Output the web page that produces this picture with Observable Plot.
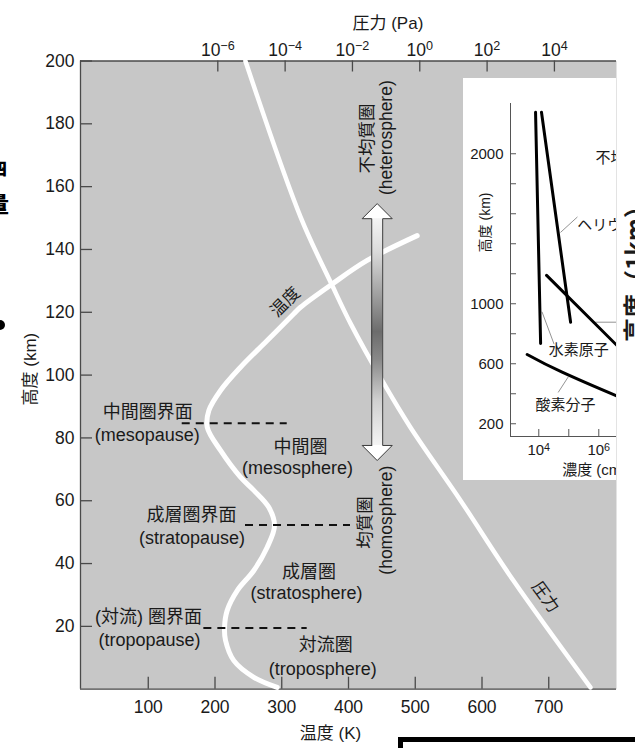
<!DOCTYPE html>
<html>
<head>
<meta charset="utf-8">
<script src="https://cdn.jsdelivr.net/npm/d3@7"></script>
<script src="https://cdn.jsdelivr.net/npm/@observablehq/plot@0.6"></script>
<style>
  html, body { margin: 0; padding: 0; background: #fff; }
  body { width: 635px; height: 748px; overflow: hidden; position: relative;
         font-family: 'Liberation Sans', 'Noto Sans CJK JP', sans-serif; color: #1a1a1a; }
  #main { position: absolute; left: 0; top: 0; }
  #inset { position: absolute; left: 463px; top: 78px; width: 153px; height: 402px;
           overflow: hidden; background: #fff; }
  #inset svg, #main svg { max-width: none !important; }
  #nextpage { position: absolute; left: 633px; top: 268px; transform: translate(-50%, -50%) rotate(-90deg);
              font-size: 24px; font-weight: bold; white-space: nowrap; font-family: 'Noto Sans CJK JP', sans-serif; }
  #box { position: absolute; left: 398px; top: 737px; width: 320px; height: 80px; border: 5px solid #000; }
  .edge { position: absolute; font-family: 'Noto Sans CJK JP', sans-serif; font-weight: 900; color: #000; }
  #dot { position: absolute; left: -5px; top: 320px; width: 10px; height: 10px; border-radius: 50%; background: #000; }
</style>
</head>
<body>
<div id="main"></div>
<div id="inset"></div>
<div id="nextpage">高度（1km）</div>
<div id="box"></div>
<div class="edge" style="left:-10px; top:155px; font-size:17px;">四</div>
<div class="edge" style="left:-13px; top:186px; font-size:22px;">量</div>
<div id="dot"></div>
<script>
// ---- Main panel: temperature (bottom axis) and pressure (top axis) vs altitude ----
const font = "'Liberation Sans', 'Noto Sans CJK JP', sans-serif";

// Temperature profile
const temperatureK   = [293.2, 258.2, 228.2, 215.8, 214.3, 218.3, 233.3, 258.2, 278.2, 289.2, 280.6, 258.2, 238.2, 208.3, 188.4, 190.8, 208.3, 238.2, 278.2, 318.1, 328.1, 375.6, 428.0, 502.9];
const temperatureAlt = [0.6, 3.8, 9.1, 15.5, 19.7, 25.1, 31.4, 37.8, 45.2, 52.1, 57.9, 63.3, 67.5, 76.0, 83.4, 88.7, 95.1, 102.5, 111.0, 119.5, 121.6, 129.0, 136.5, 144.4];

// Pressure profile (log10 of pressure in Pa)
const pressureLog10 = [-5.18, -3.54, -2.60, -2.05, -1.12, -0.28, 1.21, 2.78, 5.07];
const pressureAlt   = [200.0, 150.3, 128.5, 116.3, 98.3, 83.4, 60.1, 34.6, 0.6];

// Tick values
const altTicks = [20, 40, 60, 80, 100, 120, 140, 160, 180, 200];
const tempTicks = [100, 200, 300, 400, 500, 600, 700];
const pressureExponents = [-6, -4, -2, 0, 2, 4];

// Layer boundaries (dashed)
const boundaryAlt    = [84.7, 52.3, 19.5];
const boundaryFromK  = [150.9, 245.7, 183.3];
const boundaryToK    = [308.2, 403.0, 338.1];

// Horizontal labels
const labelText = ["中間圏界面", "(mesopause)", "中間圏", "(mesosphere)",
                   "成層圏界面", "(stratopause)", "成層圏", "(stratosphere)",
                   "(対流) 圏界面", "(tropopause)", "対流圏", "(troposphere)"];
const labelK    = [99.2, 98.5, 328.1, 323.6, 164.9, 165.6, 341.0, 337.1, 100.4, 102.0, 366.0, 361.5];
const labelAlt  = [88.1, 80.8, 77.0, 70.2, 55.3, 48.2, 37.2, 30.4, 22.9, 15.5, 13.9, 6.5];

// Vertical labels beside the homosphere / heterosphere arrow
const sphereText = ["不均質圏", "(heterosphere)", "均質圏", "(homosphere)"];
const sphereK    = [428.0, 456.9, 425.4, 456.9];
const sphereAlt  = [175.3, 175.6, 53.1, 53.8];

// Homosphere/heterosphere arrow: centre temperature and altitude span
const arrowK = 443;
const arrowSpan = [72.8, 154.6];

// The pressure axis is aligned so that 10^-6 Pa sits at 204.2 K and a decade spans 50.43 K
const pToK = e => 204.2 + (e + 6) * 50.43;
const sup = s => String(s).replace(/-/g, "⁻").replace(/\d/g, d => "⁰¹²³⁴⁵⁶⁷⁸⁹"[d]);

// Redraw "10ⁿ" labels with a raised, smaller exponent
function raiseExponents(node) {
  d3.select(node).selectAll("text").each(function () {
    const m = this.textContent.match(/^10([⁻⁰¹²³⁴⁵⁶⁷⁸⁹]+)$/);
    if (!m) return;
    const exp = m[1].replace(/⁻/g, "−").replace(/[⁰¹²³⁴⁵⁶⁷⁸⁹]/g, c => "⁰¹²³⁴⁵⁶⁷⁸⁹".indexOf(c));
    const t = d3.select(this);
    t.text("10");
    t.append("tspan").attr("dy", "-0.42em").attr("font-size", "0.72em").text(exp);
  });
}

const temperature = temperatureK.map((t, i) => ({t, alt: temperatureAlt[i]}));
const pressure = pressureLog10.map((p, i) => ({t: pToK(p), alt: pressureAlt[i]}));
const boundaries = boundaryAlt.map((alt, i) => ({alt, x1: boundaryFromK[i], x2: boundaryToK[i]}));
const labels = labelText.map((text, i) => ({text, t: labelK[i], alt: labelAlt[i]}));
const sphereLabels = sphereText.map((text, i) => ({text, t: sphereK[i], alt: sphereAlt[i]}));

// Double arrow outline, built around the arrow centre
const hs = 8.2, hh = 22.5, hl = 4.8;
const [lo, hi] = arrowSpan;
const arrowOutline = [
  [arrowK - hs, lo + hl], [arrowK - hh, lo + hl], [arrowK, lo], [arrowK + hh, lo + hl], [arrowK + hs, lo + hl],
  [arrowK + hs, hi - hl], [arrowK + hh, hi - hl], [arrowK, hi], [arrowK - hh, hi - hl], [arrowK - hs, hi - hl],
  [arrowK - hs, lo + hl]
];

const W = 616, H = 748, mL = 80, mT = 60.5, mB = 59.3;
const plotW = W - mL, plotH = H - mT - mB;
const ink = "#1a1a1a";
const mid = {lineAnchor: "middle", fill: ink};

const main = Plot.plot({
  width: W, height: H,
  marginLeft: mL, marginRight: 0, marginTop: mT, marginBottom: mB,
  x: {domain: [-1.5, 801.5], axis: null},
  y: {domain: [0, 200], axis: null},
  style: {fontFamily: font, background: "transparent", overflow: "visible", color: ink, maxWidth: "none"},
  marks: [
    Plot.frame({fill: "#c7c7c7", stroke: "none"}),
    Plot.ruleY([0, 200], {stroke: "#4a4a4a", strokeWidth: 1.3}),
    Plot.ruleX([-1.5], {stroke: "#4a4a4a", strokeWidth: 1.3}),
    Plot.tickY(altTicks, {y: d => d, insetRight: plotW - 12, stroke: "#4a4a4a", strokeWidth: 1.3}),
    Plot.tickX(tempTicks, {x: d => d, insetTop: plotH - 12, stroke: "#4a4a4a", strokeWidth: 1.3}),
    Plot.tickX(pressureExponents, {x: pToK, insetBottom: plotH - 11, stroke: "#4a4a4a", strokeWidth: 1.3}),
    Plot.text(altTicks, {y: d => d, text: d => String(d), frameAnchor: "left", dx: -6, textAnchor: "end", fontSize: 17.5, ...mid}),
    Plot.text(tempTicks, {x: d => d, text: d => String(d), frameAnchor: "bottom", dy: 18, textAnchor: "middle", fontSize: 17.5, ...mid}),
    Plot.text(pressureExponents, {x: pToK, text: e => "10" + sup(e), frameAnchor: "top", dy: -11, textAnchor: "middle", fontSize: 17.5, ...mid}),
    Plot.text(["温度 (K)"], {x: () => 373, frameAnchor: "bottom", dy: 44, textAnchor: "middle", fontSize: 17, ...mid}),
    Plot.text(["圧力 (Pa)"], {x: () => 459, frameAnchor: "top", dy: -37, textAnchor: "middle", fontSize: 17, ...mid}),
    Plot.text(["高度 (km)"], {y: () => 101.9, frameAnchor: "left", dx: -50, rotate: -90, textAnchor: "middle", fontSize: 17, ...mid}),

    // profiles
    Plot.line(pressure, {x: "t", y: "alt", stroke: "#fff", strokeWidth: 4.5, curve: "catmull-rom"}),
    Plot.line(temperature, {x: "t", y: "alt", stroke: "#fff", strokeWidth: 5, curve: "catmull-rom"}),

    // layer boundaries
    Plot.ruleY(boundaries, {y: "alt", x1: "x1", x2: "x2", stroke: "#111", strokeWidth: 2, strokeDasharray: "8,6"}),

    // double arrow
    Plot.line(arrowOutline, {x: d => d[0], y: d => d[1], fill: "#fff", stroke: "none"}),
    Plot.rect([0], {x1: () => arrowK - hs, x2: () => arrowK + hs, y1: () => lo + hl, y2: () => hi - hl, fill: "url(#shaftShade)"}),
    Plot.line(arrowOutline, {x: d => d[0], y: d => d[1], stroke: "#3a3a3a", strokeWidth: 1}),

    // labels
    Plot.text(labels, {x: "t", y: "alt", text: "text", fontSize: 18, ...mid}),
    Plot.text(sphereLabels, {x: "t", y: "alt", text: "text", rotate: -90, fontSize: 17.5, ...mid}),
    Plot.text(["温度"], {x: () => 305.6, y: () => 123.2, rotate: -45, fontSize: 17, ...mid}),
    Plot.text(["圧力"], {x: () => 695, y: () => 29.3, rotate: 54, fontSize: 17, ...mid})
  ]
});

const svg = d3.select(main);
const grad = svg.insert("defs", ":first-child").append("linearGradient")
  .attr("id", "shaftShade").attr("x1", 0).attr("y1", 0).attr("x2", 0).attr("y2", 1);
[[0, "#f4f4f4"], [0.15, "#dadada"], [0.35, "#9c9c9c"], [0.5, "#6c6c6c"], [0.62, "#888"], [0.8, "#cfcfcf"], [1, "#f4f4f4"]]
  .forEach(([o, c]) => grad.append("stop").attr("offset", o).attr("stop-color", c));
raiseExponents(main);
document.getElementById("main").appendChild(main);

// ---- Inset: number density of upper-atmosphere species vs altitude ----
const hydrogenConc = [7.8e3, 1.15e4];
const hydrogenAlt  = [2277, 735];
const heliumConc   = [1.23e4, 1.15e5];
const heliumAlt    = [2277, 877];
const oxygenConc   = [1.82e4, 5.2e6];
const oxygenAlt    = [1189, 700];
const o2Conc       = [4.1e3, 6.0e4, 3.6e6, 7.8e6];
const o2Alt        = [662, 544, 389, 362];

const insetAltTicks = [200, 400, 600, 800, 1000, 1200, 1400, 1600, 1800, 2000];
const insetAltLabels = [200, 600, 1000, 2000];
const insetConcTicks = [1e4, 1e5, 1e6, 1e7];
const insetConcLabels = [4, 6];

const toPts = (c, a) => c.map((v, i) => ({c: v, alt: a[i]}));
const iW = 300, iH = 402, iL = 47, iT = 25, iB = 44;
const xMin = 10 ** 3.057;

const inset = Plot.plot({
  width: iW, height: iH,
  marginLeft: iL, marginRight: 0, marginTop: iT, marginBottom: iB,
  x: {type: "log", domain: [xMin, 10 ** (3.057 + (iW - iL) / 30)], axis: null},
  y: {domain: [115, 2335], axis: null},
  style: {fontFamily: font, background: "#fff", overflow: "visible", color: ink, maxWidth: "none"},
  marks: [
    Plot.ruleY([115], {stroke: "#555", strokeWidth: 1}),
    Plot.ruleX([xMin], {stroke: "#555", strokeWidth: 1}),
    Plot.tickY(insetAltTicks, {y: d => d, insetRight: iW - iL - 6, stroke: "#555"}),
    Plot.tickX(insetConcTicks, {x: d => d, insetTop: iH - iT - iB - 7, stroke: "#555"}),
    Plot.text(insetAltLabels, {y: d => d, text: d => String(d), frameAnchor: "left", dx: -7, textAnchor: "end", fontSize: 15, ...mid}),
    Plot.text(insetConcLabels, {x: e => 10 ** e, text: e => "10" + sup(e), frameAnchor: "bottom", dy: 14, textAnchor: "middle", fontSize: 15, ...mid}),
    Plot.text(["濃度 (cm⁻³)"], {x: () => 10 ** 4.78, frameAnchor: "bottom", dy: 34, textAnchor: "start", fontSize: 15, ...mid}),
    Plot.text(["高度 (km)"], {y: () => 1542, frameAnchor: "left", dx: -25, rotate: -90, textAnchor: "middle", fontSize: 14, ...mid}),

    // leader lines
    Plot.line(toPts([1.29e4, 3.2e4], [944, 733]), {x: "c", y: "alt", stroke: "#777", strokeWidth: 0.8}),
    Plot.line(toPts([9.5e4, 4.5e4], [511, 411]), {x: "c", y: "alt", stroke: "#777", strokeWidth: 0.8}),
    Plot.line(toPts([5.4e4, 1.9e5], [1477, 1577]), {x: "c", y: "alt", stroke: "#777", strokeWidth: 0.8}),
    Plot.line(toPts([7.8e5, 5e6], [877, 877]), {x: "c", y: "alt", stroke: "#777", strokeWidth: 0.8}),

    // species
    Plot.line(toPts(hydrogenConc, hydrogenAlt), {x: "c", y: "alt", stroke: "#000", strokeWidth: 3}),
    Plot.line(toPts(heliumConc, heliumAlt), {x: "c", y: "alt", stroke: "#000", strokeWidth: 3}),
    Plot.line(toPts(oxygenConc, oxygenAlt), {x: "c", y: "alt", stroke: "#000", strokeWidth: 3}),
    Plot.line(toPts(o2Conc, o2Alt), {x: "c", y: "alt", stroke: "#000", strokeWidth: 3, curve: "natural"}),

    Plot.text(["水素原子"], {x: () => 10 ** 5.33, y: () => 689, fontSize: 15, ...mid}),
    Plot.text(["酸素分子"], {x: () => 10 ** 4.89, y: () => 322, fontSize: 15, ...mid}),
    Plot.text(["ヘリウム"], {x: () => 10 ** 5.28, y: () => 1522, textAnchor: "start", fontSize: 15, ...mid}),
    Plot.text(["不均質圏"], {x: () => 10 ** 5.89, y: () => 1969, textAnchor: "start", fontSize: 15, ...mid})
  ]
});
raiseExponents(inset);
document.getElementById("inset").appendChild(inset);
</script>
</body>
</html>
